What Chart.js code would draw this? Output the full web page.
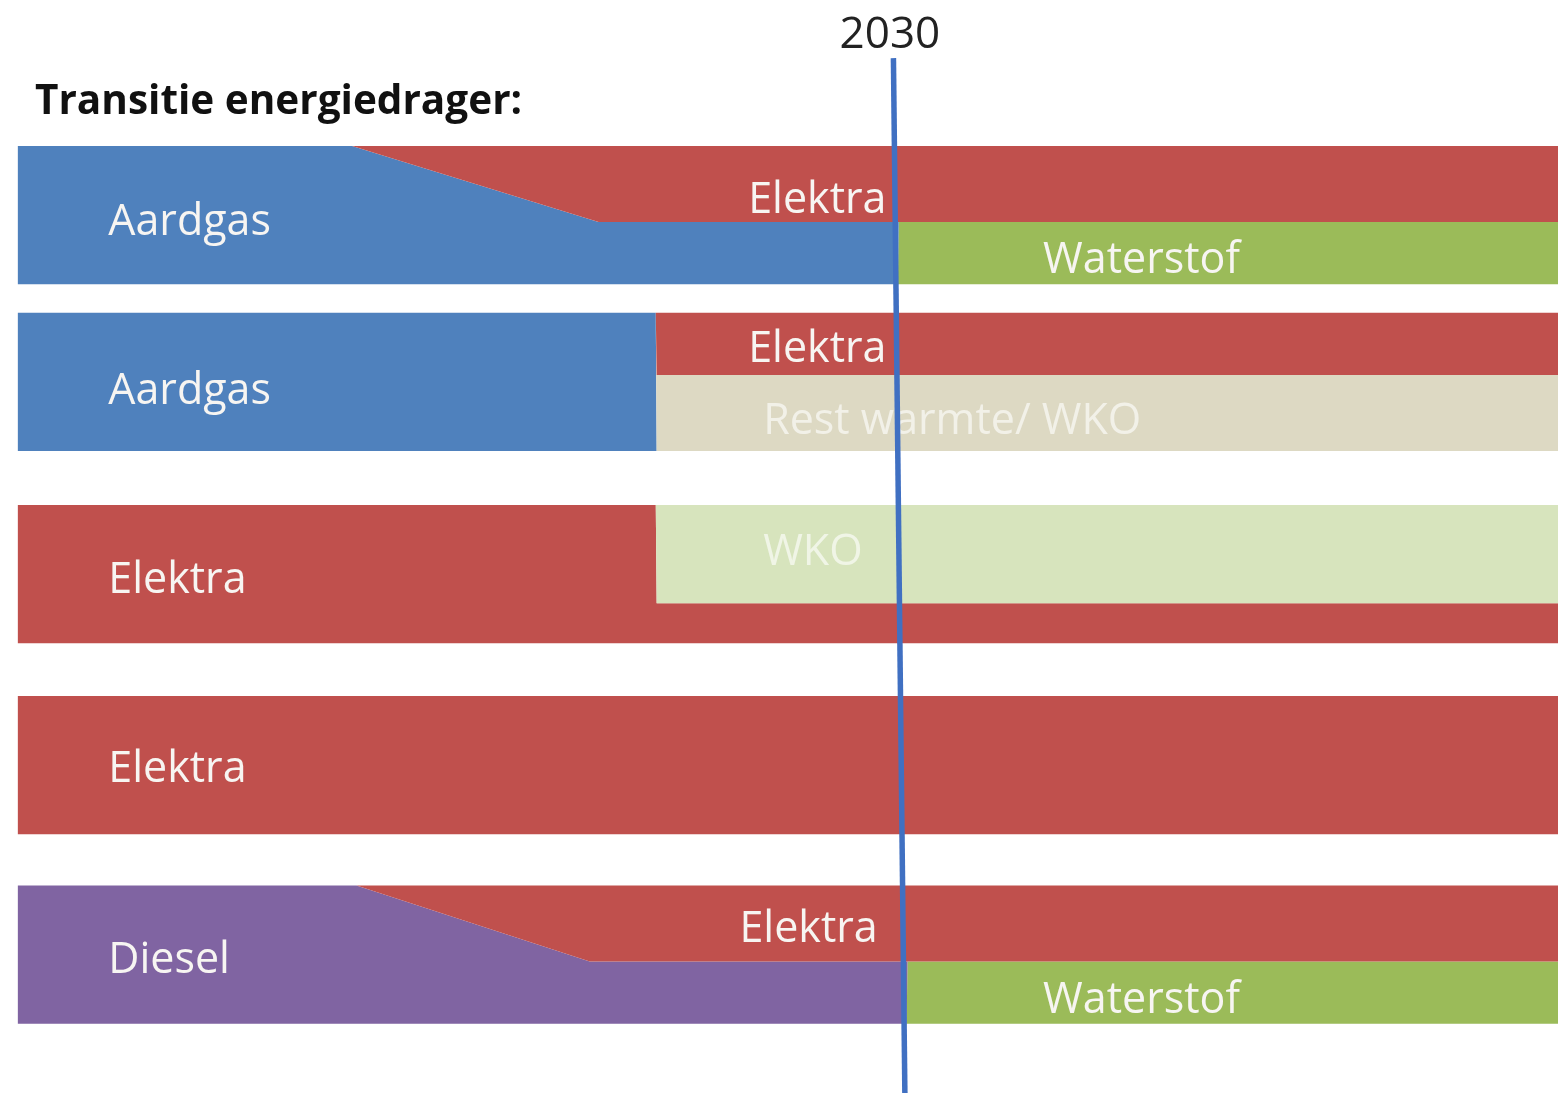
<!DOCTYPE html>
<html>
<head>
<meta charset="utf-8">
<script src="https://cdn.jsdelivr.net/npm/chart.js@4.4.1/dist/chart.umd.min.js"></script>
<style>
  html, body { margin: 0; padding: 0; background: #fff; }
  #wrap { position: relative; width: 1558px; height: 1093px; }
</style>
</head>
<body>
<div id="wrap"><canvas id="transitionChart"></canvas></div>
<script>
// Time axis (years)
const firstYear = 2019.8;
const lastYear = 2037.5;
const milestoneYear = 2030;

// Share of each carrier per row (percent of the row, stacked top to bottom)
// Row 1: Aardgas -> Elektra + Waterstof
const row1Years = [2020, 2023.8, 2026.6, 2030, 2030.01, 2037.5];
const row1Elektra = [0, 0, 55, 55, 55, 55];
const row1Aardgas = [100, 100, 45, 45, 0, 0];
const row1Waterstof = [0, 0, 0, 0, 45, 45];

// Row 2: Aardgas -> Elektra + Rest warmte/ WKO
const row2Years = [2020, 2027.25, 2027.26, 2037.5];
const row2Elektra = [0, 0, 45, 45];
const row2Restwarmte = [0, 0, 55, 55];
const row2Aardgas = [100, 100, 0, 0];

// Row 3: Elektra -> WKO + Elektra
const row3Years = [2020, 2027.25, 2027.26, 2037.5];
const row3Wko = [0, 0, 71, 71];
const row3Elektra = [100, 100, 29, 29];

// Row 4: Elektra stays
const row4Years = [2020, 2037.5];
const row4Elektra = [100, 100];

// Row 5: Diesel -> Elektra + Waterstof
const row5Years = [2020, 2023.85, 2026.5, 2030.1, 2030.11, 2037.5];
const row5Elektra = [0, 0, 55, 55, 55, 55];
const row5Diesel = [100, 100, 45, 45, 0, 0];
const row5Waterstof = [0, 0, 0, 0, 45, 45];

// colours
const colors = {
    aardgas: '#4f81bd',
    elektra: '#c0504d',
    waterstof: '#9bbb59',
    restwarmte: '#ddd9c3',
    wko: '#d7e4bd',
    diesel: '#8064a2',
    milestone: '#4070c2'
};

// layout: top of each row on the y scale (one row = 100 units)
const rowTops = [105.5, 226, 365, 503, 640];
const yMax = 790;

const rows = [
    { years: row1Years, layers: [
        { values: row1Elektra, color: colors.elektra },
        { values: row1Aardgas, color: colors.aardgas },
        { values: row1Waterstof, color: colors.waterstof }
    ]},
    { years: row2Years, layers: [
        { values: row2Elektra, color: colors.elektra },
        { values: row2Restwarmte, color: colors.restwarmte },
        { values: row2Aardgas, color: colors.aardgas }
    ]},
    { years: row3Years, layers: [
        { values: row3Wko, color: colors.wko },
        { values: row3Elektra, color: colors.elektra }
    ]},
    { years: row4Years, layers: [
        { values: row4Elektra, color: colors.elektra }
    ]},
    { years: row5Years, layers: [
        { values: row5Elektra, color: colors.elektra },
        { values: row5Diesel, color: colors.diesel },
        { values: row5Waterstof, color: colors.waterstof }
    ]}
];

// text labels: row, anchor year, baseline position inside the row (0-100)
const WHITE = '#f7f5f2';
const FAINT = 'rgba(255,255,255,0.62)';
const rowLabels = [
    { row: 0, text: 'Aardgas', year: 2021.03, pos: 64, color: WHITE },
    { row: 0, text: 'Elektra', year: 2028.3, pos: 48.5, color: WHITE },
    { row: 0, text: 'Waterstof', year: 2031.65, pos: 92, color: WHITE },
    { row: 1, text: 'Aardgas', year: 2021.03, pos: 66, color: WHITE },
    { row: 1, text: 'Elektra', year: 2028.3, pos: 35.5, color: WHITE },
    { row: 1, text: 'Rest warmte/ WKO', year: 2028.47, pos: 88, color: FAINT },
    { row: 2, text: 'WKO', year: 2028.47, pos: 43.5, color: FAINT },
    { row: 2, text: 'Elektra', year: 2021.03, pos: 63.5, color: WHITE },
    { row: 3, text: 'Elektra', year: 2021.03, pos: 62, color: WHITE },
    { row: 4, text: 'Diesel', year: 2021.03, pos: 63, color: WHITE },
    { row: 4, text: 'Elektra', year: 2028.2, pos: 41, color: WHITE },
    { row: 4, text: 'Waterstof', year: 2031.65, pos: 92, color: WHITE }
];

const FONT = '"Open Sans", "DejaVu Sans", sans-serif';

// Build one boundary line per layer; each fills to the line above it
const datasets = [];

// 2030 marker line (first dataset so it is drawn on top)
datasets.push({
    data: [
        { x: milestoneYear - 0.05, y: 42 },
        { x: milestoneYear + 0.08, y: yMax }
    ],
    borderColor: colors.milestone,
    borderWidth: 5.5,
    pointRadius: 0,
    fill: false
});

rows.forEach((row, r) => {
    const top = rowTops[r];
    let cum = row.years.map(() => 0);
    datasets.push({
        data: row.years.map((x) => ({ x: x, y: top })),
        borderColor: 'transparent',
        borderWidth: 0,
        pointRadius: 0,
        fill: false
    });
    row.layers.forEach((layer) => {
        cum = cum.map((c, i) => c + layer.values[i]);
        datasets.push({
            data: row.years.map((x, i) => ({ x: x, y: top + cum[i] })),
            borderColor: 'transparent',
            borderWidth: 0,
            pointRadius: 0,
            backgroundColor: layer.color,
            fill: '-1'
        });
    });
});

// draws the labels before the marker line so the line sits over them
const labelPlugin = {
    id: 'labelPlugin',
    beforeDatasetDraw(chart, args) {
        if (args.index !== 0) return;
        const ctx = chart.ctx;
        const xs = chart.scales.x;
        const ys = chart.scales.y;
        ctx.save();
        ctx.textBaseline = 'alphabetic';
        ctx.textAlign = 'left';
        ctx.font = '43px ' + FONT;
        rowLabels.forEach((l) => {
            ctx.fillStyle = l.color;
            ctx.fillText(l.text, xs.getPixelForValue(l.year), ys.getPixelForValue(rowTops[l.row] + l.pos));
        });

        ctx.fillStyle = '#111';
        ctx.font = 'bold 40.5px ' + FONT;
        ctx.fillText('Transitie energiedrager:', 35, 114);

        ctx.fillStyle = '#222';
        ctx.font = '44px ' + FONT;
        ctx.textAlign = 'center';
        ctx.fillText(String(milestoneYear), xs.getPixelForValue(milestoneYear - 0.09), 48);
        ctx.restore();
    }
};

const ctx = document.getElementById('transitionChart').getContext('2d');
const chart = new Chart(ctx, {
    type: 'line',
    data: { datasets: datasets },
    options: {
        responsive: true,
        maintainAspectRatio: false,
        animation: false,
        layout: { padding: 0 },
        elements: { line: { tension: 0 } },
        plugins: {
            legend: { display: false },
            tooltip: { enabled: false },
            title: { display: false }
        },
        scales: {
            x: { type: 'linear', min: firstYear, max: lastYear, display: false },
            y: { type: 'linear', min: 0, max: yMax, reverse: true, display: false }
        }
    },
    plugins: [labelPlugin]
});
</script>
</body>
</html>
